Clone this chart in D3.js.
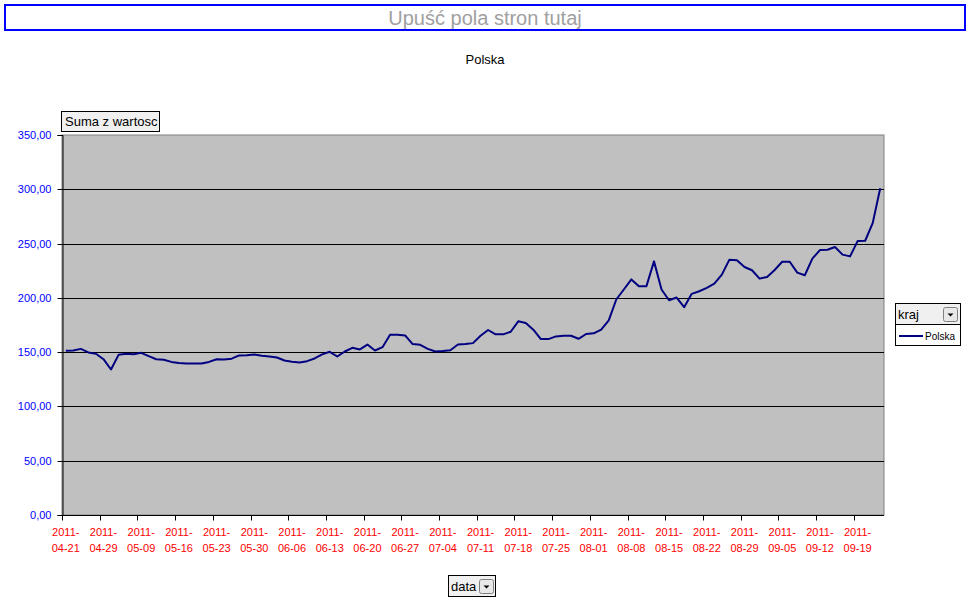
<!DOCTYPE html>
<html>
<head>
<meta charset="utf-8">
<script src="https://cdn.jsdelivr.net/npm/d3@7"></script>
<style>
  html, body { margin: 0; padding: 0; background: #ffffff; }
  svg { display: block; font-family: "Liberation Sans", Arial, sans-serif; }
</style>
</head>
<body>
<svg id="chart" width="970" height="604"></svg>
<script>
// ---------- data ----------
const dates = [
  "2011-04-21","2011-04-22","2011-04-26","2011-04-27","2011-04-28",
  "2011-04-29","2011-05-02","2011-05-04","2011-05-05","2011-05-06",
  "2011-05-09","2011-05-10","2011-05-11","2011-05-12","2011-05-13",
  "2011-05-16","2011-05-17","2011-05-18","2011-05-19","2011-05-20",
  "2011-05-23","2011-05-24","2011-05-25","2011-05-26","2011-05-27",
  "2011-05-30","2011-05-31","2011-06-01","2011-06-02","2011-06-03",
  "2011-06-06","2011-06-07","2011-06-08","2011-06-09","2011-06-10",
  "2011-06-13","2011-06-14","2011-06-15","2011-06-16","2011-06-17",
  "2011-06-20","2011-06-21","2011-06-22","2011-06-23","2011-06-24",
  "2011-06-27","2011-06-28","2011-06-29","2011-06-30","2011-07-01",
  "2011-07-04","2011-07-05","2011-07-06","2011-07-07","2011-07-08",
  "2011-07-11","2011-07-12","2011-07-13","2011-07-14","2011-07-15",
  "2011-07-18","2011-07-19","2011-07-20","2011-07-21","2011-07-22",
  "2011-07-25","2011-07-26","2011-07-27","2011-07-28","2011-07-29",
  "2011-08-01","2011-08-02","2011-08-03","2011-08-04","2011-08-05",
  "2011-08-08","2011-08-09","2011-08-10","2011-08-11","2011-08-12",
  "2011-08-15","2011-08-16","2011-08-17","2011-08-18","2011-08-19",
  "2011-08-22","2011-08-23","2011-08-24","2011-08-25","2011-08-26",
  "2011-08-29","2011-08-30","2011-08-31","2011-09-01","2011-09-02",
  "2011-09-05","2011-09-06","2011-09-07","2011-09-08","2011-09-09",
  "2011-09-12","2011-09-13","2011-09-14","2011-09-15","2011-09-16",
  "2011-09-19","2011-09-20","2011-09-21","2011-09-22"
];
const polska = [
  151.2,151.5,153.0,149.7,148.5,143.5,134.0,147.5,148.5,148.0,
  149.4,146.3,143.5,143.0,141.0,140.0,139.6,139.6,139.6,141.0,
  143.5,143.2,144.0,147.0,147.2,147.8,146.6,146.0,145.1,142.3,
  141.1,140.5,141.7,144.2,147.9,150.3,146.0,150.6,154.0,152.5,
  157.0,151.5,154.6,166.0,166.0,165.4,157.4,156.8,153.0,150.6,
  151.0,151.8,157.0,157.4,158.3,165.1,170.4,166.4,166.4,168.8,
  178.4,176.9,170.7,162.0,162.0,164.5,165.1,165.1,162.3,166.7,
  167.3,170.7,179.3,198.5,207.7,217.0,210.8,210.8,233.6,207.7,
  197.8,200.3,191.4,203.7,206.1,209.2,213.1,221.4,235.2,234.6,
  228.4,225.4,217.7,219.3,225.7,233.3,233.3,223.2,220.8,236.1,
  244.0,244.3,246.8,239.8,238.2,252.3,252.6,268.8,300.9
];
const yTicks = [0, 50, 100, 150, 200, 250, 300, 350];
const labelEvery = 5;
const seriesName = "Polska";
const chartTitle = "Polska";
const pageFieldText = "Upuść pola stron tutaj";
const dataFieldText = "Suma z wartosc";
const seriesFieldText = "kraj";
const categoryFieldText = "data";

// ---------- layout ----------
const svg = d3.select("#chart");
const plot = { left: 62, right: 884, top: 135, bottom: 515 };

svg.append("rect").attr("width", 970).attr("height", 604).attr("fill", "#ffffff");

// page field drop zone
svg.append("rect")
  .attr("x", 5).attr("y", 5).attr("width", 960).attr("height", 25)
  .attr("fill", "none").attr("stroke", "#0000ff").attr("stroke-width", 2);
svg.append("text")
  .attr("x", 485).attr("y", 25).attr("text-anchor", "middle")
  .attr("font-size", 20).attr("fill", "#a0a0a0").text(pageFieldText);

// title
svg.append("text")
  .attr("x", 485).attr("y", 64).attr("text-anchor", "middle")
  .attr("font-size", 13).attr("fill", "#000").text(chartTitle);

// scales
const x = d3.scaleBand().domain(dates).range([plot.left, plot.right]).paddingInner(0).paddingOuter(0);
const y = d3.scaleLinear().domain([0, 350]).range([plot.bottom, plot.top]);

// plot area
svg.append("rect")
  .attr("x", plot.left).attr("y", plot.top)
  .attr("width", plot.right - plot.left).attr("height", plot.bottom - plot.top)
  .attr("fill", "#c0c0c0").attr("stroke", "#808080").attr("stroke-width", 1);

// gridlines
svg.append("g").selectAll("line").data(yTicks.filter(d => d > 0 && d < 350)).join("line")
  .attr("x1", plot.left).attr("x2", plot.right)
  .attr("y1", d => Math.round(y(d)) + 0.5).attr("y2", d => Math.round(y(d)) + 0.5)
  .attr("stroke", "#000").attr("stroke-width", 1);

// y axis
const yAxis = d3.axisLeft(y).tickValues(yTicks).tickSize(5)
  .tickFormat(d => d3.format(".2f")(d).replace(".", ","));
const gy = svg.append("g").attr("transform", `translate(${plot.left + 0.5},0)`).call(yAxis);
gy.select(".domain").attr("stroke", "#000");
gy.selectAll(".tick line").attr("stroke", "#000");
gy.selectAll(".tick text").attr("fill", "#0000ff").attr("font-size", 11)
  .attr("font-family", "Liberation Sans, Arial, sans-serif").attr("x", -11);
gy.selectAll(".tick").attr("transform", d => `translate(0,${Math.round(y(d)) + 0.5})`);

// x axis: ticks at category boundaries every 5 categories, labels centered on category
const tickDates = dates.filter((d, i) => i % labelEvery === 0);
const gx = svg.append("g").attr("transform", `translate(0,${plot.bottom + 0.5})`);
gx.append("line").attr("x1", plot.left).attr("x2", plot.right)
  .attr("stroke", "#000");
gx.selectAll("line.tk").data(tickDates).join("line").attr("class", "tk")
  .attr("x1", d => Math.round(x(d)) + 0.5).attr("x2", d => Math.round(x(d)) + 0.5)
  .attr("y1", 0).attr("y2", 5).attr("stroke", "#000");
const lbl = gx.selectAll("text").data(tickDates).join("text")
  .attr("text-anchor", "middle").attr("font-size", 11).attr("fill", "#ff0000")
  .attr("transform", d => `translate(${x(d) + x.bandwidth() / 2},0)`);
lbl.append("tspan").attr("x", 0).attr("y", 20).text(d => d.slice(0, 5));
lbl.append("tspan").attr("x", 0).attr("y", 36).text(d => d.slice(5));

// line
const line = d3.line()
  .x((d, i) => x(dates[i]) + x.bandwidth() / 2)
  .y(d => y(d));
svg.append("path").datum(polska)
  .attr("d", line).attr("fill", "none")
  .attr("stroke", "#000080").attr("stroke-width", 2).attr("stroke-linejoin", "round");

// field button helper
function dropArrow(g, bx, by) {
  g.append("rect").attr("x", bx).attr("y", by).attr("width", 14).attr("height", 14)
    .attr("rx", 2).attr("fill", "#e8e8e8").attr("stroke", "#808080");
  g.append("path").attr("d", `M${bx + 4},${by + 6} L${bx + 10},${by + 6} L${bx + 7},${by + 9} Z`)
    .attr("fill", "#000");
}

// data field button
const b1 = svg.append("g");
b1.append("rect").attr("x", 61.5).attr("y", 111.5).attr("width", 98).attr("height", 20)
  .attr("fill", "#f0f0f0").attr("stroke", "#000");
b1.append("text").attr("x", 65).attr("y", 126).attr("font-size", 13).attr("fill", "#000").text(dataFieldText);

// category field button
const b2 = svg.append("g");
b2.append("rect").attr("x", 448.5).attr("y", 575.5).attr("width", 47).attr("height", 21)
  .attr("fill", "#f0f0f0").attr("stroke", "#000");
b2.append("text").attr("x", 451).attr("y", 591).attr("font-size", 13).attr("fill", "#000").text(categoryFieldText);
dropArrow(b2, 479.5, 579.5);

// legend: series field button + legend box
const lg = svg.append("g");
lg.append("rect").attr("x", 895.5).attr("y", 303.5).attr("width", 65).attr("height", 21)
  .attr("fill", "#f0f0f0").attr("stroke", "#000");
lg.append("text").attr("x", 898).attr("y", 319).attr("font-size", 13).attr("fill", "#000").text(seriesFieldText);
dropArrow(lg, 943.5, 307.5);
lg.append("rect").attr("x", 895.5).attr("y", 324.5).attr("width", 65).attr("height", 21)
  .attr("fill", "#ffffff").attr("stroke", "#000");
lg.append("line").attr("x1", 899).attr("x2", 923).attr("y1", 336).attr("y2", 336)
  .attr("stroke", "#000080").attr("stroke-width", 2);
lg.append("text").attr("x", 925).attr("y", 340).attr("font-size", 10).attr("fill", "#000").text(seriesName);
</script>
</body>
</html>
